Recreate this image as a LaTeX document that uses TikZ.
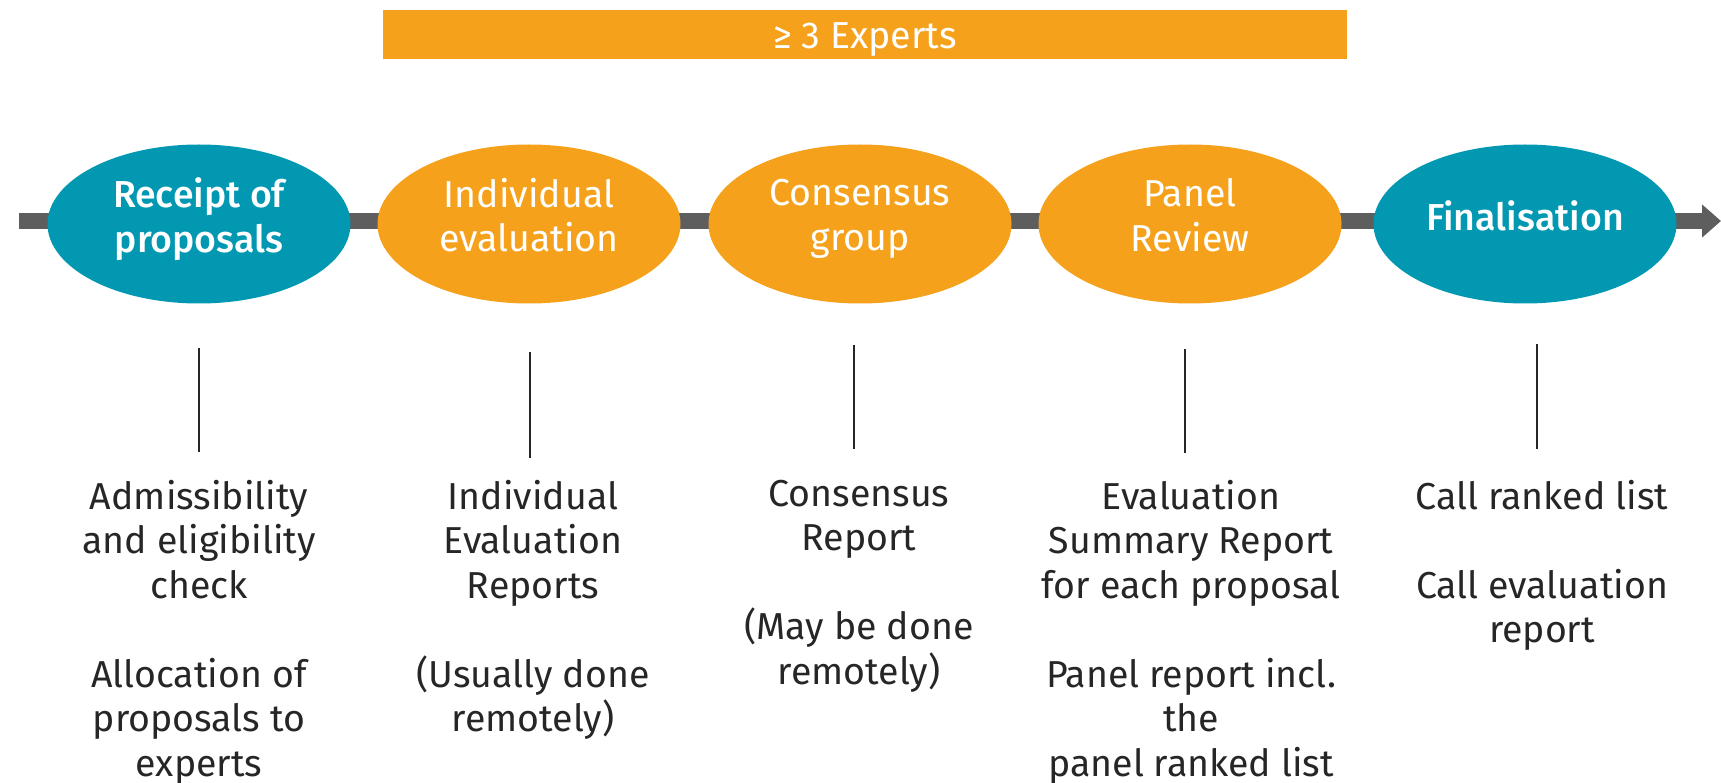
\documentclass[tikz,border=0pt]{standalone}
\usepackage{fontspec}
\setmainfont{Fira Sans}[BoldFont={Fira Sans Medium}]
\usetikzlibrary{shapes.geometric,arrows.meta}
\definecolor{orng}{RGB}{245,161,28}
\definecolor{teal}{RGB}{2,152,178}
\definecolor{tlgray}{RGB}{94,94,94}
\definecolor{txt}{RGB}{38,38,38}
\tikzset{
  bigfont/.style={font=\fontsize{37.5}{44.5}\selectfont},
  phase/.style={ellipse, minimum width=303pt, minimum height=159pt, inner sep=0pt},
  orphase/.style={phase, fill=orng},
  tlphase/.style={phase, fill=teal},
  phtext/.style={text=white, align=center, bigfont, inner sep=0pt, yshift=2.5pt,
    execute at begin node=\strut, execute at end node=\strut},
  phbold/.style={phtext, font=\fontsize{37.5}{44.5}\selectfont\bfseries},
  bar/.style={fill=orng, minimum width=964pt, minimum height=49pt, inner sep=0pt,
    text=white, bigfont, text height=28pt, text depth=0pt},
  timeline/.style={line width=16.5pt, draw=tlgray, -{Triangle[length=19pt,width=32pt]}},
  tick/.style={line width=2pt, draw=txt},
  desc/.style={anchor=north, align=center, text=txt, bigfont, inner sep=0pt,
    execute at begin node=\strut}
}
\begin{document}
\begin{tikzpicture}[x=1pt,y=-1pt]
\useasboundingbox (0,0) rectangle (1721,783);
\node[bar] (experts) at (865,34.5) {≥ 3 Experts};
\coordinate (ls) at (19,221);
\coordinate (le) at (1721,221);
\draw[timeline] (ls) -- (le);
\node[tlphase] (p1) at (199,224) {};
\node[orphase] (p2) at (529,224) {};
\node[orphase] (p3) at (860,224) {};
\node[orphase] (p4) at (1190,224) {};
\node[tlphase] (p5) at (1525,224) {};
\node[phbold] (p1t) at (p1.center) {Receipt of\\proposals};
\node[phtext] (p2t) at (p2.center) {Individual\\evaluation};
\node[phtext] (p3t) at (p3.center) {Consensus\\group};
\node[phtext] (p4t) at (p4.center) {Panel\\Review};
\node[phbold] (p5t) at (p5.center) {Finalisation};
\coordinate (t1a) at (199,348); \coordinate (t1b) at (199,452);
\coordinate (t2a) at (530,352); \coordinate (t2b) at (530,458);
\coordinate (t3a) at (854,345); \coordinate (t3b) at (854,449);
\coordinate (t4a) at (1185,349); \coordinate (t4b) at (1185,453);
\coordinate (t5a) at (1537,344); \coordinate (t5b) at (1537,449);
\draw[tick] (t1a) -- (t1b);
\draw[tick] (t2a) -- (t2b);
\draw[tick] (t3a) -- (t3b);
\draw[tick] (t4a) -- (t4b);
\draw[tick] (t5a) -- (t5b);
\node[desc] (d1) at (199,480) {Admissibility\\and eligibility\\check\\[44.5pt]Allocation of\\proposals to\\experts};
\node[desc] (d2) at (533,480) {Individual\\Evaluation\\Reports\\[44.5pt](Usually done\\remotely)};
\node[desc] (d3) at (859,480) {Consensus\\Report\\[44.5pt](May be done\\remotely)};
\node[desc] (d4) at (1191,480) {Evaluation\\Summary Report\\for each proposal\\[44.5pt]Panel report incl.\\the\\panel ranked list};
\node[desc] (d5) at (1542,480) {Call ranked list\\[44.5pt]Call evaluation\\report};
\end{tikzpicture}
\end{document}
